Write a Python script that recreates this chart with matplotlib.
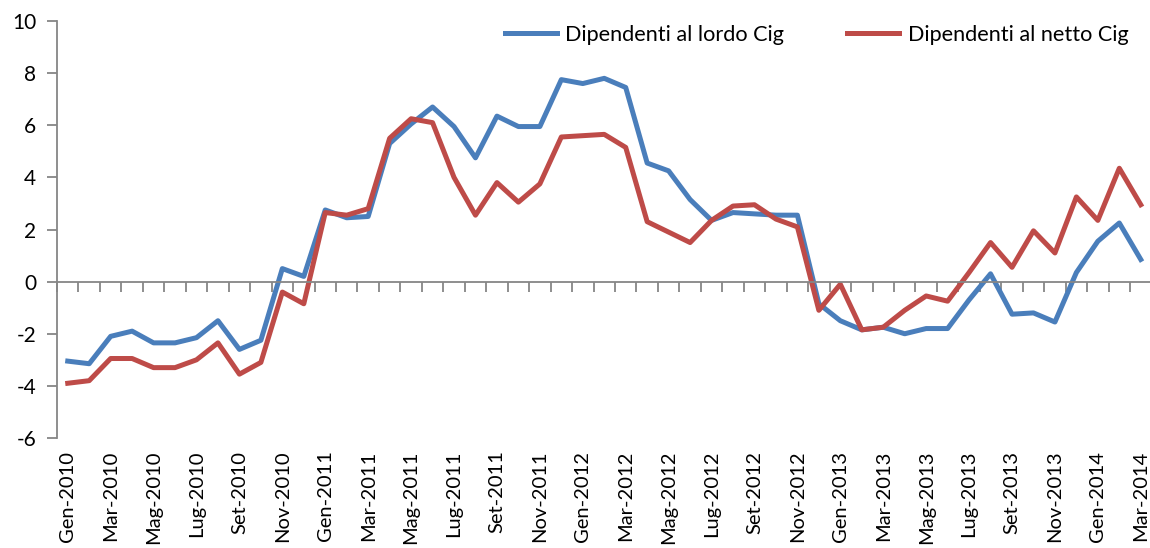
import matplotlib
matplotlib.use("Agg")
import matplotlib.pyplot as plt
import numpy as np

months_it = ["Gen", "Feb", "Mar", "Apr", "Mag", "Giu", "Lug", "Ago", "Set", "Ott", "Nov", "Dic"]
categories = [f"{m}-{y}" for y in range(2010, 2015) for m in months_it][:51]

lordo = [-3.05, -3.15, -2.1, -1.9, -2.35, -2.35, -2.15, -1.5, -2.6, -2.25,
         0.5, 0.2, 2.75, 2.45, 2.5, 5.3, 6.05, 6.7, 5.95, 4.75,
         6.35, 5.95, 5.95, 7.75, 7.6, 7.8, 7.45, 4.55, 4.25, 3.15,
         2.35, 2.65, 2.6, 2.55, 2.55, -0.85, -1.5, -1.85, -1.75, -2.0,
         -1.8, -1.8, -0.7, 0.3, -1.25, -1.2, -1.55, 0.35, 1.55, 2.25, 0.85]
netto = [-3.9, -3.8, -2.95, -2.95, -3.3, -3.3, -3.0, -2.35, -3.55, -3.1,
         -0.4, -0.85, 2.65, 2.55, 2.8, 5.5, 6.25, 6.1, 4.0, 2.55,
         3.8, 3.05, 3.75, 5.55, 5.6, 5.65, 5.15, 2.3, 1.9, 1.5,
         2.35, 2.9, 2.95, 2.4, 2.1, -1.1, -0.1, -1.85, -1.75, -1.1,
         -0.55, -0.75, 0.35, 1.5, 0.55, 1.95, 1.1, 3.25, 2.35, 4.35, 2.95]
series_names = ["Dipendenti al lordo Cig", "Dipendenti al netto Cig"]
yticks = list(range(-6, 11, 2))

plt.rcParams['font.family'] = ['Lato', 'DejaVu Sans']
axis_col = "#868686"

W, H = 1150, 548
fig = plt.figure(figsize=(W / 100, H / 100), dpi=100)
left_px, right_px, top_px, bot_px = 57, 1151.5, 21, 438
ax = fig.add_axes([left_px / W, (H - bot_px) / H, (right_px - left_px) / W, (bot_px - top_px) / H])

x = np.arange(len(categories))
ax.plot(x, lordo, color="#4A7EBB", lw=3.6, solid_joinstyle='round', label=series_names[0])
ax.plot(x, netto, color="#BE4B48", lw=3.6, solid_joinstyle='round', label=series_names[1])

ax.set_xlim(-0.5, len(categories) - 0.5)
ax.set_ylim(-6, 10)

for s in ["top", "right"]:
    ax.spines[s].set_visible(False)
ax.spines["left"].set_color(axis_col)
ax.spines["left"].set_linewidth(1.3)
ax.spines["bottom"].set_position(("data", 0))
ax.spines["bottom"].set_color(axis_col)
ax.spines["bottom"].set_linewidth(1.3)

ax.set_yticks(yticks)
ax.set_yticklabels([str(v) for v in yticks])
ax.tick_params(axis='y', direction='out', length=7, width=1.3, color=axis_col,
               labelsize=15, pad=8, labelcolor='black')

ax.set_xticks([])
ax.set_xticks(np.arange(-0.5, len(categories) + 0.5, 1), minor=True)
ax.tick_params(axis='x', which='minor', direction='out', length=7, width=1.3, color=axis_col)

sec = ax.secondary_xaxis('bottom')
sec.spines['bottom'].set_visible(False)
sec.set_xticks(x[::2])
sec.set_xticklabels(categories[::2], rotation=90, fontsize=14.5)
sec.tick_params(axis='x', length=0, pad=9)

fig.legend(loc='center', bbox_to_anchor=(0.71, 1 - 35 / H), ncol=2, frameon=False,
           fontsize=15.6, handlelength=2.4, handletextpad=0.4, columnspacing=2.9)

fig.savefig("out.png", dpi=100)
